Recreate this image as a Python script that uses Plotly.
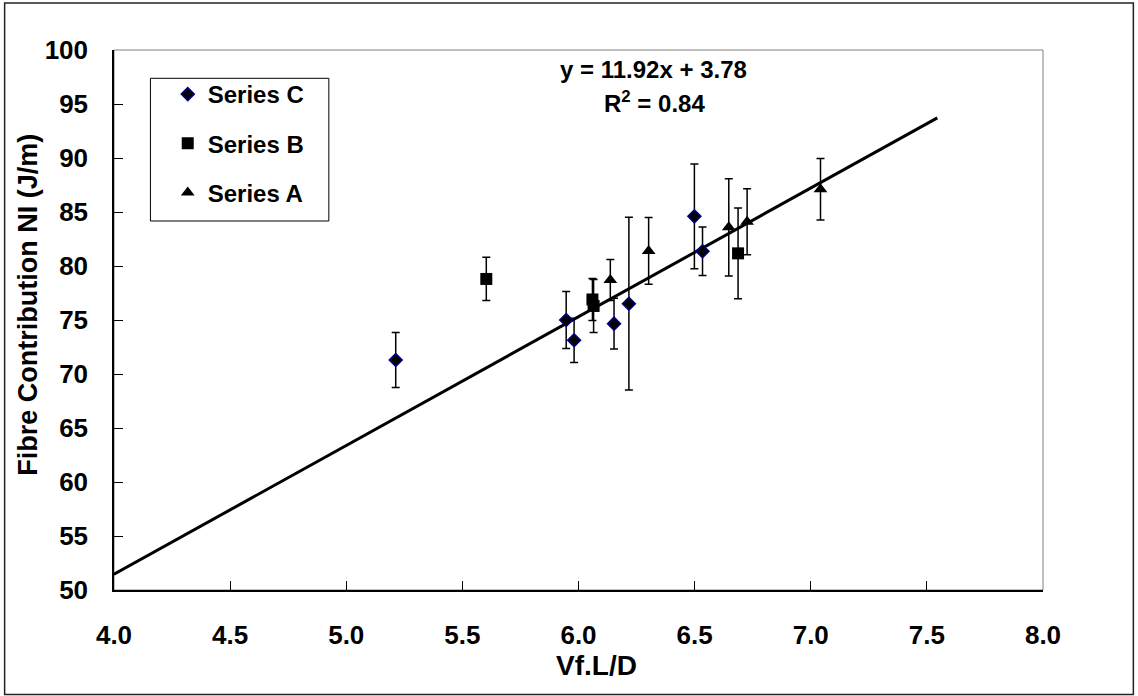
import plotly.graph_objects as go

# ---------------- data ----------------
c_x = [5.213, 5.947, 5.981, 6.153, 6.217, 6.499, 6.534]
c_y = [71.30, 75.00, 73.12, 74.66, 76.51, 84.60, 81.36]
c_err = [2.55, 2.65, 2.05, 2.35, 8.00, 4.85, 2.25]

b_x = [5.603, 6.060, 6.065, 6.687]
b_y = [78.80, 76.90, 76.30, 81.17]
b_err = [2.00, 1.95, 2.45, 4.20]

a_x = [6.137, 6.302, 6.647, 6.726, 7.042]
a_y = [78.70, 81.40, 83.58, 84.10, 87.10]
a_err = [1.90, 3.10, 4.50, 3.05, 2.85]

slope = 11.92
intercept = 3.78
r2 = 0.84
trend_x = [4.0, 7.545]
trend_y = [slope * v + intercept for v in trend_x]

x_ticks = [4.0, 4.5, 5.0, 5.5, 6.0, 6.5, 7.0, 7.5, 8.0]
y_ticks = [50, 55, 60, 65, 70, 75, 80, 85, 90, 95, 100]

# ---------------- layout helpers ----------------
W, H = 1138, 696
L, R, T, B = 114.3, 1042.7, 50, 590
PW, PH = R - L, B - T

def px(xp):
    return (xp - L) / PW

def py(yp):
    return (B - yp) / PH

FONT = "Liberation Sans, Arial, sans-serif"

fig = go.Figure()

fig.add_trace(go.Scatter(
    x=trend_x, y=trend_y, mode="lines",
    line=dict(color="black", width=3), showlegend=False, hoverinfo="skip"))

err_style = dict(type="data", visible=True, color="black", thickness=1.5, width=4)

fig.add_trace(go.Scatter(
    x=c_x, y=c_y, mode="markers", name="Series C", legendgroup="c",
    marker=dict(symbol="diamond", size=10, color="black",
                line=dict(color="#000080", width=1.5)),
    error_y=dict(array=c_err, **err_style)))

fig.add_trace(go.Scatter(
    x=b_x, y=b_y, mode="markers", name="Series B", legendgroup="b",
    marker=dict(symbol="square", size=12, color="black",
                line=dict(color="black", width=0)),
    error_y=dict(array=b_err, **err_style)))

fig.add_trace(go.Scatter(
    x=a_x, y=a_y, mode="markers", name="Series A", legendgroup="a",
    marker=dict(symbol="triangle-up", size=12, color="black",
                line=dict(color="black", width=0)),
    error_y=dict(array=a_err, **err_style)))

fig.update_layout(
    width=W, height=H,
    margin=dict(l=L, r=W - R, t=T, b=H - B, pad=0),
    paper_bgcolor="white", plot_bgcolor="white",
    font=dict(family=FONT, color="black", size=24, weight="bold"),
    showlegend=True,
    legend=dict(
        x=px(168), y=py(72), xanchor="left", yanchor="top",
        borderwidth=0, bgcolor="rgba(0,0,0,0)",
        font=dict(family=FONT, size=24, color="black", weight="bold"),
        tracegroupgap=15, itemsizing="trace",
        traceorder="grouped",
    ),
    xaxis=dict(
        range=[4.0, 8.0], tickvals=x_ticks, tickformat=".1f",
        ticks="inside", ticklen=9, tickwidth=1.2, tickcolor="black",
        showline=True, linecolor="black", linewidth=1.5,
        showgrid=False, zeroline=False,
        tickfont=dict(family=FONT, size=26, color="black", weight="bold"),
        ticklabelstandoff=21,
    ),
    yaxis=dict(
        range=[50, 100], tickvals=y_ticks,
        ticks="inside", ticklen=9, tickwidth=1.2, tickcolor="black",
        showline=True, linecolor="black", linewidth=1.5,
        showgrid=False, zeroline=False,
        tickfont=dict(family=FONT, size=26, color="black", weight="bold"),
        ticklabelstandoff=19,
    ),
    shapes=[
        dict(type="rect", xref="paper", yref="paper", x0=0, x1=1, y0=0, y1=1,
             line=dict(color="#808080", width=1), layer="below"),
        dict(type="rect", xref="paper", yref="paper",
             x0=px(5), x1=px(1133), y0=py(694.5), y1=py(3),
             line=dict(color="#222222", width=1.5), layer="below"),
        dict(type="rect", xref="paper", yref="paper",
             x0=px(150.7), x1=px(329), y0=py(221), y1=py(78.3),
             line=dict(color="black", width=1), fillcolor="white", layer="below"),
    ],
    annotations=[
        dict(text=f"y = {slope:.2f}x + {intercept:.2f}", xref="paper", yref="paper",
             x=px(653), y=py(69), xanchor="center", yanchor="middle",
             showarrow=False, font=dict(family=FONT, size=24, weight="bold")),
        dict(text=f"R<sup>2</sup> = {r2:.2f}", xref="paper", yref="paper",
             x=px(654), y=py(102), xanchor="center", yanchor="middle",
             showarrow=False, font=dict(family=FONT, size=24, weight="bold")),
        dict(text="Vf.L/D", xref="paper", yref="paper",
             x=px(596), y=py(665), xanchor="center", yanchor="middle",
             showarrow=False, font=dict(family=FONT, size=28, weight="bold")),
        dict(text="Fibre Contribution NI (J/m)", xref="paper", yref="paper",
             x=px(28), y=py(305), xanchor="center", yanchor="middle", textangle=-90,
             showarrow=False, font=dict(family=FONT, size=27, weight="bold")),
    ],
)

fig.write_html("out.html")
